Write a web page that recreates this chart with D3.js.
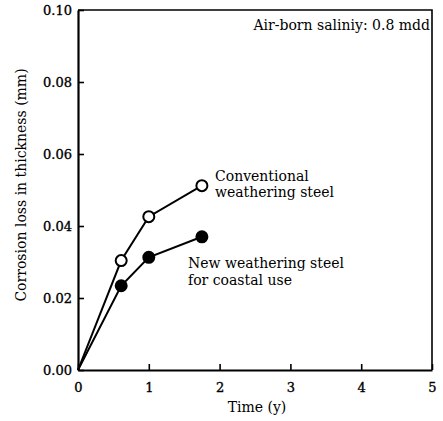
<!DOCTYPE html>
<html><head><meta charset="utf-8">
<script src="https://cdn.jsdelivr.net/npm/d3@7"></script>
<style>
body{margin:0;background:#fff;}
text{font-family:"DejaVu Serif",serif;fill:#000;}
</style></head>
<body><svg id="c" width="443" height="421"></svg>
<script>
const years = [0, 0.61, 1.0, 1.75];
const conventional = [0, 0.0304, 0.0426, 0.0512];
const newSteel = [0, 0.0234, 0.0313, 0.0370];
const xTicks = [0, 1, 2, 3, 4, 5];
const yTicks = [0.00, 0.02, 0.04, 0.06, 0.08, 0.10];
const xTitle = "Time (y)";
const yTitle = "Corrosion loss in thickness (mm)";
const note = "Air-born saliniy: 0.8 mdd";
const convLabel = ["Conventional", "weathering steel"];
const newLabel = ["New weathering steel", "for coastal use"];

const svg = d3.select("#c");
const L = 78, T = 10, R = 432, B = 370;
const x = d3.scaleLinear().domain([0, 5]).range([L, R]);
const y = d3.scaleLinear().domain([0, 0.10]).range([B, T]);

// frame top & right
svg.append("path").attr("d", `M${L},${T}H${R}V${B}`).attr("fill","none").attr("stroke","#000").attr("stroke-width",1.6);

const xAxis = svg.append("g").attr("transform",`translate(0,${B})`)
  .call(d3.axisBottom(x).tickValues(xTicks).tickFormat(d3.format("d")).tickSizeInner(-6).tickSizeOuter(0).tickPadding(22));
const yAxis = svg.append("g").attr("transform",`translate(${L},0)`)
  .call(d3.axisLeft(y).tickValues(yTicks).tickFormat(d3.format(".2f")).tickSizeInner(-6).tickSizeOuter(0).tickPadding(6));
[xAxis, yAxis].forEach(g => {
  g.select(".domain").attr("stroke","#000").attr("stroke-width",2.2);
  g.selectAll(".tick line").attr("stroke","#000").attr("stroke-width",1.6);
  g.selectAll(".tick text").style("font-family","'DejaVu Serif',serif").style("font-size","13px")
    .attr("fill","#000").attr("stroke","#000").attr("stroke-width",0.35);
});
xAxis.selectAll(".tick text").attr("dy","0");
yAxis.selectAll(".tick text").attr("dy","0.35em");

svg.append("text").attr("x", 257).attr("y", 412).attr("text-anchor","middle")
  .style("font-size","14px").text(xTitle);
svg.append("text").attr("transform",`translate(26,185) rotate(-90)`).attr("text-anchor","middle")
  .style("font-size","14px").text(yTitle);
svg.append("text").attr("x", 430).attr("y", 30).attr("text-anchor","end").style("font-size","14px").text(note);

const line = d3.line().x(d => x(d[0])).y(d => y(d[1]));
const series = [
  {vals: conventional, fill: "#fff"},
  {vals: newSteel, fill: "#000"}
];
series.forEach(s => {
  const pts = years.map((t,i)=>[t, s.vals[i]]);
  svg.append("path").datum(pts).attr("d", line).attr("fill","none").attr("stroke","#000").attr("stroke-width",2);
  svg.selectAll(null).data(pts.slice(1)).enter().append("circle")
    .attr("cx", d=>x(d[0])).attr("cy", d=>y(d[1])).attr("r",5.5)
    .attr("fill", s.fill).attr("stroke","#000").attr("stroke-width",2);
});

convLabel.forEach((t,i)=> svg.append("text").attr("x",215).attr("y",181+i*16).style("font-size","14px").text(t));
newLabel.forEach((t,i)=> svg.append("text").attr("x",188).attr("y",268+i*17).style("font-size","14px").text(t));
</script></body></html>
